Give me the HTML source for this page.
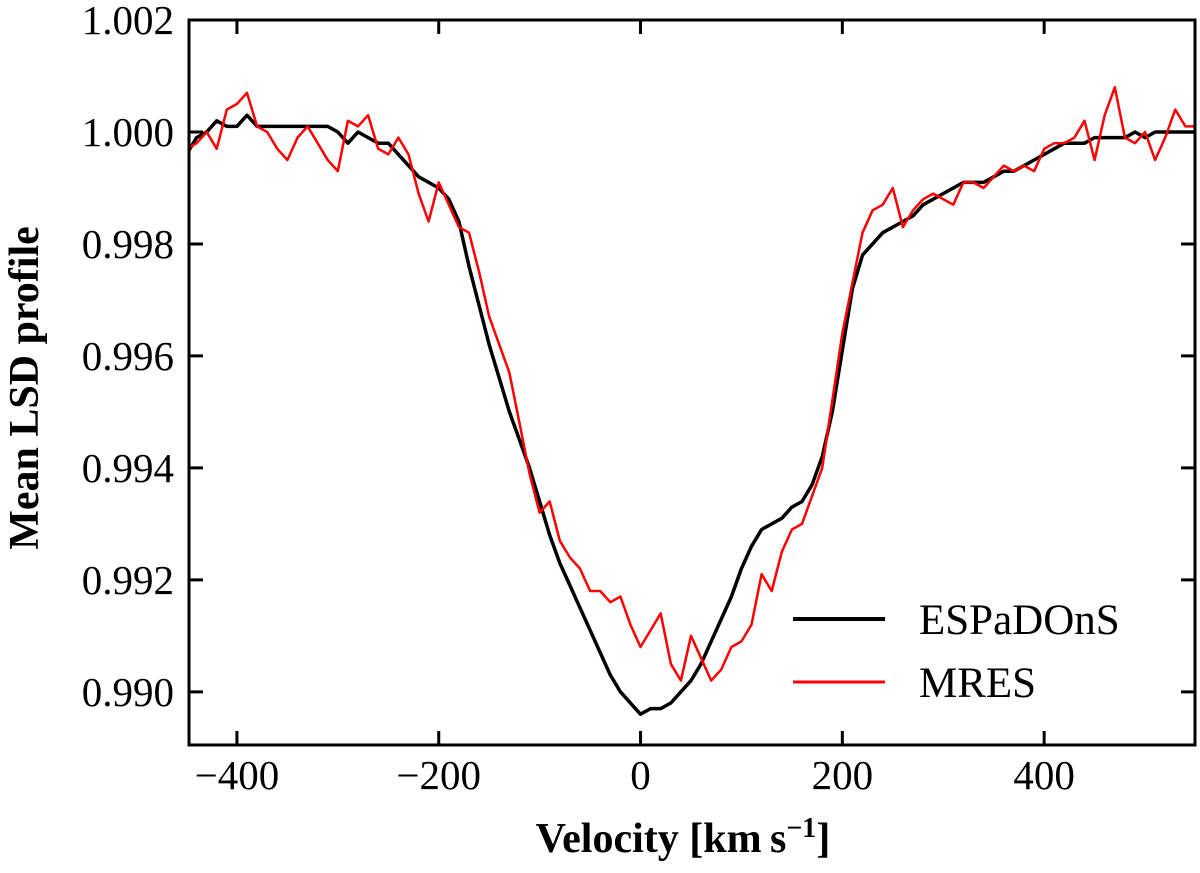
<!DOCTYPE html>
<html><head><meta charset="utf-8"><style>
html,body{margin:0;padding:0;background:#fff;}
svg text{font-family:"Liberation Serif",serif;fill:#000;}
</style></head><body>
<svg id="chart" width="1200" height="868" viewBox="0 0 1200 868" xmlns="http://www.w3.org/2000/svg">
<g id="plot"></g>
</svg>
<script>
const velocities = [];
for (let v = -450; v <= 550; v += 10) velocities.push(v);
const espadons = [0.9996,0.9999,1.0000,1.0002,1.0001,1.0001,1.0003,1.0001,1.0001,1.0001,1.0001,1.0001,1.0001,1.0001,1.0001,1.0000,0.9998,1.0000,0.9999,0.9998,0.9998,0.9996,0.9994,0.9992,0.9991,0.9990,0.9988,0.9984,0.9976,0.9969,0.9962,0.9956,0.9950,0.9945,0.9940,0.9934,0.9928,0.9923,0.9919,0.9915,0.9911,0.9907,0.9903,0.9900,0.9898,0.9896,0.9897,0.9897,0.9898,0.9900,0.9902,0.9905,0.9909,0.9913,0.9917,0.9922,0.9926,0.9929,0.9930,0.9931,0.9933,0.9934,0.9937,0.9942,0.9950,0.9961,0.9972,0.9978,0.9980,0.9982,0.9983,0.9984,0.9985,0.9987,0.9988,0.9989,0.9990,0.9991,0.9991,0.9991,0.9992,0.9993,0.9993,0.9994,0.9995,0.9996,0.9997,0.9998,0.9998,0.9998,0.9999,0.9999,0.9999,0.9999,1.0000,0.9999,1.0000,1.0000,1.0000,1.0000,1.0000];
const mres = [0.9997,0.9998,1.0000,0.9997,1.0004,1.0005,1.0007,1.0001,1.0000,0.9997,0.9995,0.9999,1.0001,0.9998,0.9995,0.9993,1.0002,1.0001,1.0003,0.9997,0.9996,0.9999,0.9996,0.9989,0.9984,0.9991,0.9987,0.9983,0.9982,0.9975,0.9967,0.9962,0.9957,0.9948,0.9939,0.9932,0.9934,0.9927,0.9924,0.9922,0.9918,0.9918,0.9916,0.9917,0.9912,0.9908,0.9911,0.9914,0.9905,0.9902,0.9910,0.9906,0.9902,0.9904,0.9908,0.9909,0.9912,0.9921,0.9918,0.9925,0.9929,0.9930,0.9935,0.9940,0.9952,0.9964,0.9973,0.9982,0.9986,0.9987,0.9990,0.9983,0.9986,0.9988,0.9989,0.9988,0.9987,0.9991,0.9991,0.9990,0.9992,0.9994,0.9993,0.9994,0.9993,0.9997,0.9998,0.9998,0.9999,1.0002,0.9995,1.0003,1.0008,0.9999,0.9998,1.0000,0.9995,0.9999,1.0004,1.0001,1.0001];
const xTicks = [-400,-200,0,200,400];
const xTickLabels = ["\u2212400","\u2212200","0","200","400"];
const yTicks = [0.990,0.992,0.994,0.996,0.998,1.000,1.002];
const yTickLabels = ["0.990","0.992","0.994","0.996","0.998","1.000","1.002"];

const L=189,R=1195,T=20,B=745;
const xMin=-447.5,xMax=549.5,yMin=0.98905,yMax=1.002;
const X=v=>L+(v-xMin)/(xMax-xMin)*(R-L);
const Y=v=>T+(yMax-v)/(yMax-yMin)*(B-T);
const NS="http://www.w3.org/2000/svg";
const plot=document.getElementById('plot');
function mk(tag,attrs,parent){const e=document.createElementNS(NS,tag);for(const k in attrs)e.setAttribute(k,attrs[k]);(parent||plot).appendChild(e);return e;}

const defs=mk('defs',{});
const cp=mk('clipPath',{id:'clip'},defs);
mk('rect',{x:L,y:T,width:R-L,height:B-T},cp);

function series(vals,color,w,name){
  const d=vals.map((v,i)=>(i?'L':'M')+X(velocities[i]).toFixed(1)+' '+Y(v).toFixed(1)).join(' ');
  const p=mk('path',{d:d,fill:'none',stroke:color,'stroke-width':w,'stroke-linejoin':'round','clip-path':'url(#clip)'});
  
  
}
series(espadons,'#000',3.5,'espadons-line');
series(mres,'#ff0000',2.5,'mres-line');

xTicks.forEach((t,i)=>{
  const x=X(t);
  const tk=mk('path',{d:`M${x} ${B} V${B-14} M${x} ${T} V${T+14}`,stroke:'#000','stroke-width':3});
  
  
  const lb=mk('text',{x:x,y:789,'text-anchor':'middle','font-size':41});
  lb.textContent=xTickLabels[i];
  
  
});
yTicks.forEach((t,i)=>{
  const y=Y(t);
  const tk=mk('path',{d:`M${L} ${y} H${L+14} M${R} ${y} H${R-14}`,stroke:'#000','stroke-width':3});
  
  
  const lb=mk('text',{x:174,y:y+14,'text-anchor':'end','font-size':41});
  lb.textContent=yTickLabels[i];
  
  
});
const frame=mk('rect',{x:L,y:T,width:R-L,height:B-T,fill:'none',stroke:'#000','stroke-width':3});



const xt=mk('text',{x:683,y:852,'text-anchor':'middle','font-size':42,'font-weight':'bold'});
xt.innerHTML='Velocity [km\u2009s<tspan dy="-15" font-size="28">\u22121</tspan><tspan dy="15">]</tspan>';


const yt=mk('text',{x:0,y:0,'text-anchor':'middle','font-size':42,'font-weight':'bold',transform:'translate(38 388) rotate(-90)'});
yt.textContent='Mean LSD profile';



const legend=mk('g',{});


mk('line',{x1:793,y1:619,x2:885,y2:619,stroke:'#000','stroke-width':4},legend);
const l1=mk('text',{x:919,y:634,'font-size':43},legend);l1.textContent='ESPaDOnS';


mk('line',{x1:793,y1:682,x2:885,y2:682,stroke:'#ff0000','stroke-width':3},legend);
const l2=mk('text',{x:919,y:697,'font-size':43},legend);l2.textContent='MRES';


</script>
</body></html>
